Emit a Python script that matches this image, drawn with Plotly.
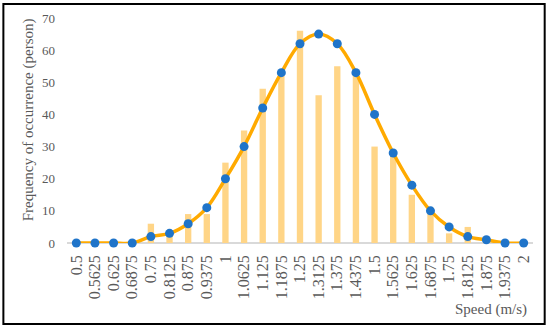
import plotly.graph_objects as go

speeds = ["0.5", "0.5625", "0.625", "0.6875", "0.75", "0.8125", "0.875", "0.9375",
          "1", "1.0625", "1.125", "1.1875", "1.25", "1.3125", "1.375", "1.4375",
          "1.5", "1.5625", "1.625", "1.6875", "1.75", "1.8125", "1.875", "1.9375", "2"]
observed = [0, 0, 0, 0, 6, 3, 9, 9, 25, 35, 48, 52, 66, 46, 55, 52, 30, 27, 15, 11, 3, 5, 1, 0, 0]
fitted = [0, 0, 0, 0, 2, 3, 6, 11, 20, 30, 42, 53, 62, 65, 62, 53, 40, 28, 18, 10, 5, 2, 1, 0, 0]
y_ticks = [0, 10, 20, 30, 40, 50, 60, 70]

W, H = 550, 331
L, R, T, B = 66.7, 16.7, 18, 88
pw, ph = W - L - R, H - T - B

def px(x):
    return (x - L) / pw

def py(y):
    return (H - B - y) / ph

serif = "Liberation Serif, Times New Roman, serif"

fig = go.Figure()
fig.add_trace(go.Bar(x=speeds, y=observed, marker=dict(color="#FFD587", line=dict(width=0)),
                     showlegend=False))
fig.add_trace(go.Scatter(x=speeds, y=fitted, mode="lines+markers",
                         line=dict(color="#FFAA00", width=3.5, shape="spline", smoothing=1),
                         marker=dict(color="#1F74C9", size=9),
                         showlegend=False, cliponaxis=False))

fig.update_layout(
    width=W, height=H,
    margin=dict(l=L, r=R, t=T, b=B, autoexpand=False),
    paper_bgcolor="white", plot_bgcolor="white",
    bargap=0.66,
    font=dict(family=serif, color="#595959"),
    xaxis=dict(type="category", range=[-0.5, len(speeds) - 0.5],
               tickmode="array", tickvals=speeds, ticktext=speeds,
               tickangle=-90, tickfont=dict(size=16, family=serif, color="#595959"),
               showgrid=False, showline=False, zeroline=False, ticks="", ticklabelstandoff=8),
    yaxis=dict(range=[0, 70], tickvals=y_ticks, showgrid=False, showline=False,
               zeroline=True, zerolinecolor="#D9D9D9", zerolinewidth=1.5,
               tickfont=dict(size=13, family=serif, color="#595959"), ticks="", ticklabelstandoff=11),
    shapes=[dict(type="rect", xref="paper", yref="paper",
                 x0=px(3), x1=px(545), y0=py(4), y1=py(324),
                 line=dict(color="black", width=2), layer="above")],
    annotations=[
        dict(text="Frequency of occurrence (person)", xref="paper", yref="paper",
             x=px(28), y=py(120), textangle=-90, showarrow=False,
             xanchor="center", yanchor="middle", font=dict(size=15, family=serif, color="#595959")),
        dict(text="Speed (m/s)", xref="paper", yref="paper",
             x=px(529), y=py(309), showarrow=False,
             xanchor="right", yanchor="middle", font=dict(size=15, family=serif, color="#595959")),
    ],
)
fig.update_yaxes(layer="below traces")

fig.write_html("out.html", config={"displayModeBar": False},
               post_script="document.body.style.margin='0';")
